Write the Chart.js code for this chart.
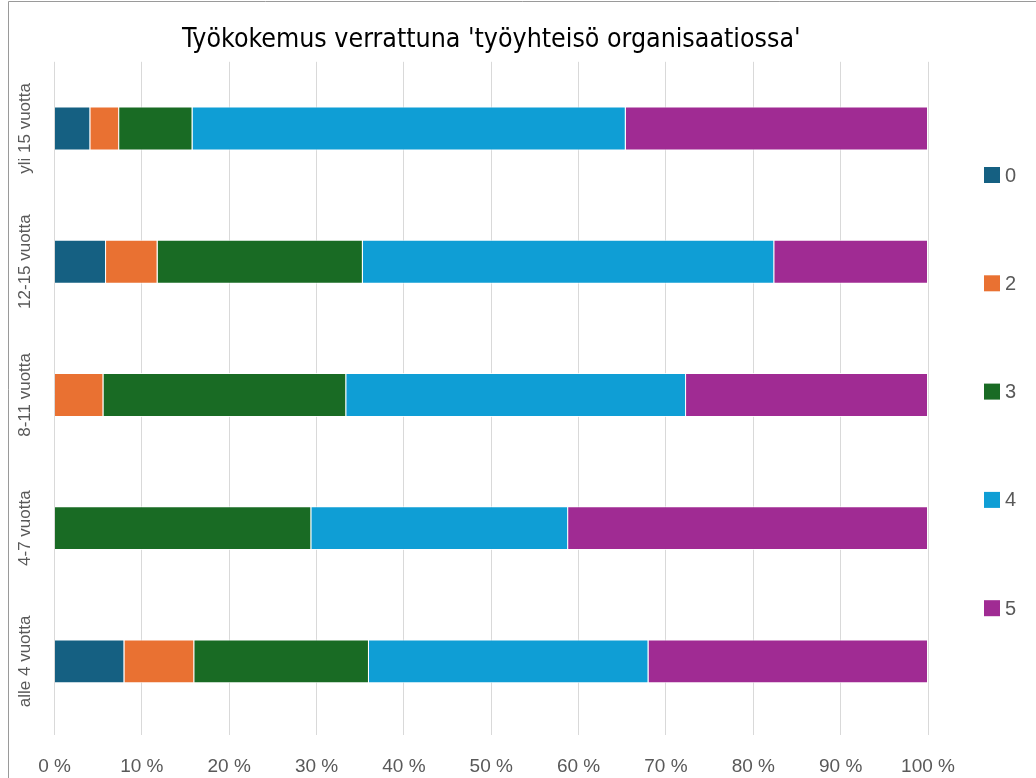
<!DOCTYPE html>
<html>
<head>
<meta charset="utf-8">
<script src="https://cdn.jsdelivr.net/npm/chart.js@4"></script>
<style>
  html, body { margin: 0; padding: 0; background: #fff; }
</style>
</head>
<body>
<canvas id="chart" width="1036" height="778"></canvas>
<script>
// categories top to bottom
const categories = ["yli 15 vuotta", "12-15 vuotta", "8-11 vuotta", "4-7 vuotta", "alle 4 vuotta"];
const seriesNames = ["0", "2", "3", "4", "5"];
const seriesColors = ["#156082", "#E97132", "#196B24", "#0F9ED5", "#A02B93"];

// percent shares
const s0 = [4.1, 5.9, 0, 0, 8];
const s2 = [3.3, 5.9, 5.6, 0, 8];
const s3 = [8.4, 23.5, 27.8, 29.4, 20];
const s4 = [49.6, 47.1, 38.9, 29.4, 32];
const s5 = [34.6, 17.6, 27.7, 41.2, 32];
const seriesValues = [s0, s2, s3, s4, s5];

const xTicks = [0, 10, 20, 30, 40, 50, 60, 70, 80, 90, 100];

const labelColor = "#595959";
const baseFont = "'Liberation Sans', Arial, sans-serif";

// frame line on left and top, like the cropped office chart
const framePlugin = {
  id: "frame",
  afterDraw(chart) {
    const ctx = chart.ctx;
    ctx.save();
    ctx.strokeStyle = "#9a9a9a";
    ctx.lineWidth = 1;
    ctx.beginPath();
    ctx.moveTo(8.5, chart.height);
    ctx.lineTo(8.5, 1.5);
    ctx.lineTo(chart.width, 1.5);
    ctx.stroke();
    ctx.restore();
  },
};

// rotated category labels, centred on each bar
const catLabels = {
  id: "catLabels",
  afterDraw(chart) {
    const ctx = chart.ctx;
    const y = chart.scales.y;
    ctx.save();
    ctx.fillStyle = labelColor;
    ctx.font = "17px " + baseFont;
    ctx.textAlign = "center";
    ctx.textBaseline = "middle";
    categories.forEach((c, i) => {
      ctx.save();
      ctx.translate(25, y.getPixelForValue(i));
      ctx.rotate(-Math.PI / 2);
      ctx.fillText(c, 0, 0);
      ctx.restore();
    });
    ctx.restore();
  },
};

// legend spread down the right side
const sideLegend = {
  id: "sideLegend",
  afterDraw(chart) {
    const ctx = chart.ctx;
    const top = 175, step = 108.3;
    ctx.save();
    ctx.font = "20px " + baseFont;
    ctx.textBaseline = "middle";
    ctx.textAlign = "left";
    chart.data.datasets.forEach((ds, i) => {
      const cy = top + i * step;
      ctx.fillStyle = ds.backgroundColor;
      ctx.fillRect(984, cy - 8, 16, 16);
      ctx.fillStyle = labelColor;
      ctx.fillText(ds.label, 1005, cy + 1);
    });
    ctx.restore();
  },
};

const datasets = seriesNames.map((name, i) => ({
  label: name,
  data: seriesValues[i],
  backgroundColor: seriesColors[i],
  borderColor: "rgba(255,255,255,0.8)",
  borderWidth: 1,
  categoryPercentage: 1,
  barPercentage: 0.33,
}));

const chart = new Chart(document.getElementById("chart").getContext("2d"), {
  type: "bar",
  data: { labels: categories, datasets: datasets },
  options: {
    indexAxis: "y",
    responsive: false,
    animation: false,
    layout: { padding: { left: 8.5, right: 108, top: 0, bottom: 0 } },
    plugins: {
      legend: { display: false },
      tooltip: { enabled: false },
      title: {
        display: true,
        fullSize: false,
        text: "Työkokemus verrattuna 'työyhteisö organisaatiossa'",
        color: "#000000",
        font: { family: "'Liberation Sans Narrow', 'DejaVu Sans Condensed', " + baseFont, size: 26.5, weight: "normal" },
        padding: { top: 24, bottom: 6 },
      },
    },
    scales: {
      x: {
        stacked: true,
        min: 0,
        max: 100,
        afterBuildTicks: (s) => { s.ticks = xTicks.map((v) => ({ value: v })); },
        afterFit: (s) => { s.height = 50; },
        grid: { color: "#d9d9d9", lineWidth: 1, tickLength: 7, drawTicks: true },
        border: { display: false },
        ticks: {
          color: labelColor,
          font: { family: baseFont, size: 19 },
          padding: 20,
          maxRotation: 0,
          autoSkip: false,
          callback: (v) => v + " %",
        },
      },
      y: {
        stacked: true,
        grid: { display: false },
        border: { display: false },
        ticks: { display: false },
        afterFit: (s) => { s.width = 46; },
      },
    },
  },
  plugins: [framePlugin, catLabels, sideLegend],
});
</script>
</body>
</html>
